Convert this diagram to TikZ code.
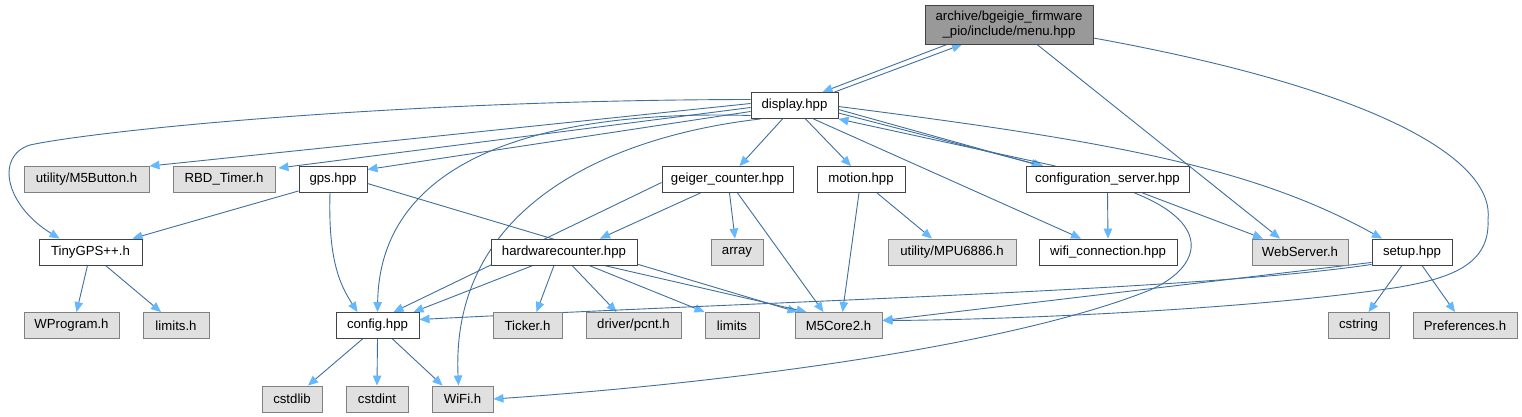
\documentclass[tikz,border=0pt]{standalone}
\usepackage{fontspec}
\setmainfont{Liberation Sans}
\usetikzlibrary{arrows.meta}
\definecolor{edgecol}{HTML}{3F6F9F}
\definecolor{tipcol}{HTML}{63B8FF}
\definecolor{extfill}{HTML}{E0E0E0}
\definecolor{extdraw}{HTML}{808080}
\definecolor{inndraw}{HTML}{444444}
\definecolor{menufill}{HTML}{999999}
\pgfdeclarelayer{background}
\pgfsetlayers{background,main}
\begin{document}
\begin{tikzpicture}[x=1pt,y=-1pt,
  base/.style={rectangle, minimum height=26pt, inner sep=0pt, font=\fontsize{13.2}{15}\selectfont, line width=0.9pt},
  wnode/.style={base, fill=white, draw=inndraw},
  gnode/.style={base, fill=extfill, draw=extdraw},
  mnode/.style={base, fill=menufill, draw=inndraw, align=center, font=\fontsize{13.2}{14.5}\selectfont},
  edge/.style={draw=edgecol, line width=0.9pt, -{Triangle[length=10pt,width=8.5pt,fill=tipcol,color=tipcol]}}]
\useasboundingbox (0,0) rectangle (1522,417);
% nodes
\node[mnode, minimum width=168pt, minimum height=39pt] (menu) at (1009,24.5) {archive/bgeigie\_firmware\\\_pio/include/menu.hpp};
\node[wnode, minimum width=87pt] (display) at (794.5,105.5) {display.hpp};
% row 1
\node[gnode, minimum width=125pt] (m5button) at (86.5,179.5) {utility/M5Button.h};
\node[gnode, minimum width=102pt] (rbd) at (224,179.5) {RBD\_Timer.h};
\node[wnode, minimum width=68pt] (gps) at (333,179.5) {gps.hpp};
\node[wnode, minimum width=131pt] (geiger) at (727.5,179.5) {geiger\_counter.hpp};
\node[wnode, minimum width=88pt] (motion) at (861,179.5) {motion.hpp};
\node[wnode, minimum width=163pt] (cs) at (1107.5,179.5) {configuration\_server.hpp};
% row 2
\node[wnode, minimum width=103pt] (tinygps) at (90.5,252) {TinyGPS++.h};
\node[wnode, minimum width=146pt] (hwc) at (564,252) {hardwarecounter.hpp};
\node[gnode, minimum width=52pt] (array) at (737,252) {array};
\node[gnode, minimum width=128pt] (mpu) at (952,252) {utility/MPU6886.h};
\node[wnode, minimum width=138pt] (wificonn) at (1108,252) {wifi\_connection.hpp};
\node[gnode, minimum width=96pt] (webserver) at (1300,252) {WebServer.h};
\node[wnode, minimum width=80pt] (setup) at (1412,252) {setup.hpp};
% row 3
\node[gnode, minimum width=95pt] (wprogram) at (71.5,325.5) {WProgram.h};
\node[gnode, minimum width=66pt] (limitsh) at (176,325.5) {limits.h};
\node[wnode, minimum width=83pt] (config) at (377.5,325.5) {config.hpp};
\node[gnode, minimum width=69pt] (ticker) at (527.5,325.5) {Ticker.h};
\node[gnode, minimum width=95pt] (pcnt) at (633.5,325.5) {driver/pcnt.h};
\node[gnode, minimum width=54pt] (limits) at (732,325.5) {limits};
\node[gnode, minimum width=87pt] (m5core) at (838.5,325.5) {M5Core2.h};
\node[gnode, minimum width=61pt] (cstring) at (1358.5,325.5) {cstring};
\node[gnode, minimum width=104pt] (prefs) at (1465,325.5) {Preferences.h};
% row 4
\node[gnode, minimum width=60pt] (cstdlib) at (292,399) {cstdlib};
\node[gnode, minimum width=62pt] (cstdint) at (377,399) {cstdint};
\node[gnode, minimum width=61pt] (wifih) at (462.5,399) {WiFi.h};

\begin{pgfonlayer}{background}
\fill[white] (0,0) rectangle (1522,417);
% menu
\draw[edge] ([shift={(-62,0)}]menu.south) -- ([shift={(28,0)}]display.north);
\draw[edge] ([shift={(40,0)}]display.north) -- ([shift={(-47,0)}]menu.south);
\draw[edge] ([shift={(28,0)}]menu.south) -- ([shift={(-20,0)}]webserver.north);
\draw[edge] ([shift={(0,13.5)}]menu.east) .. controls (1380,90) and (1495,160) .. (1488,220)
  .. controls (1490,265) and (1450,278) .. (1400,287)
  .. controls (1250,310) and (1000,320) .. ([shift={(0,-5)}]m5core.east);
% display
\draw[edge] ([shift={(0,-2)}]display.west) -- (m5button.north east);
\draw[edge] ([shift={(0,2)}]display.west) -- ([shift={(3,2)}]rbd.north east);
\draw[edge] ([shift={(0,6)}]display.west) -- ([shift={(0,-10)}]gps.east);
\draw[edge] ([shift={(0,-6)}]display.west) .. controls (400,100) and (100,130) .. (30,145)
  .. controls (-5,156) and (5,205) .. ([shift={(21,0)}]tinygps.north west);
\draw[edge] ([shift={(0,10)}]display.west) .. controls (560,110) and (380,150) .. (config.north);
\draw[edge] ([shift={(10,0)}]display.south west) .. controls (620,135) and (450,200) .. ([shift={(-4,0)}]wifih.north);
\draw[edge] ([shift={(-12,0)}]display.south) -- ([shift={(12,0)}]geiger.north);
\draw[edge] ([shift={(11,0)}]display.south) -- ([shift={(-10,0)}]motion.north);
\draw[edge] ([shift={(-25,0)}]display.south east) -- ([shift={(-27,0)}]wificonn.north);
\draw[edge] ([shift={(0,4)}]display.east) -- ([shift={(16,0)}]cs.north west);
\draw[edge] ([shift={(0,7.5)}]display.east) -- ([shift={(18,0)}]cs.north west);
\draw[edge] ([shift={(30,0)}]cs.north west) -- (display.south east);
\draw[edge] ([shift={(0,1)}]display.east) .. controls (1100,140) and (1250,165) .. ([shift={(-30,0)}]setup.north);
% gps
\draw[edge] ([shift={(0,-2)}]gps.south west) -- ([shift={(94,0)}]tinygps.north west);
\draw[edge] ([shift={(-3,0)}]gps.south) .. controls (328,260) and (340,285) .. ([shift={(-20,0)}]config.north);
\draw[edge] ([shift={(0,4)}]gps.east) -- ([shift={(3,0)}]m5core.north west);
% tinygps
\draw[edge] ([shift={(-3,0)}]tinygps.south) -- ([shift={(5,0)}]wprogram.north);
\draw[edge] ([shift={(15,0)}]tinygps.south) -- ([shift={(-15,0)}]limitsh.north);
% geiger
\draw[edge] ([shift={(0,3)}]geiger.west) -- ([shift={(16,0)}]config.north);
\draw[edge] ([shift={(-27,0)}]geiger.south) -- ([shift={(36,0)}]hwc.north);
\draw[edge] ([shift={(2,0)}]geiger.south) -- ([shift={(-2,0)}]array.north);
\draw[edge] ([shift={(10,0)}]geiger.south) -- ([shift={(-15,0)}]m5core.north);
% motion
\draw[edge] ([shift={(-2,0)}]motion.south) -- ([shift={(4,0)}]m5core.north);
\draw[edge] ([shift={(16,0)}]motion.south) -- ([shift={(-20,0)}]mpu.north);
% configuration server
\draw[edge] (cs.south) -- (wificonn.north);
\draw[edge] ([shift={(35,0)}]cs.south) -- ([shift={(-37,0)}]webserver.north);
\draw[edge] ([shift={(27,0)}]cs.south) .. controls (1215,225) and (1200,268) .. (1150,290)
  .. controls (1000,350) and (700,385) .. (wifih.east);
% hardwarecounter
\draw[edge] ([shift={(-31,0)}]hwc.south) -- ([shift={(36,0)}]config.north);
\draw[edge] ([shift={(-10,0)}]hwc.south) -- ([shift={(9,0)}]ticker.north);
\draw[edge] ([shift={(8,0)}]hwc.south) -- ([shift={(-17,0)}]pcnt.north);
\draw[edge] ([shift={(25,0)}]hwc.south) -- (limits.north west);
\draw[edge] ([shift={(40,0)}]hwc.south) -- ([shift={(12,0)}]m5core.north west);
% setup
\draw[edge] ([shift={(-10,0)}]setup.south) -- ([shift={(10,0)}]cstring.north);
\draw[edge] ([shift={(10,0)}]setup.south) -- ([shift={(-10,0)}]prefs.north);
\draw[edge] ([shift={(0,-3)}]setup.south west) -- ([shift={(0,-5)}]m5core.east);
\draw[edge] ([shift={(0,-1)}]setup.south west) .. controls (1200,290) and (800,300) .. ([shift={(0,-6)}]config.east);
% config
\draw[edge] ([shift={(-15,0)}]config.south) -- ([shift={(16,0)}]cstdlib.north);
\draw[edge] (config.south) -- (cstdint.north);
\draw[edge] ([shift={(15,0)}]config.south) -- ([shift={(-20,0)}]wifih.north);
\end{pgfonlayer}
\end{tikzpicture}
\end{document}
